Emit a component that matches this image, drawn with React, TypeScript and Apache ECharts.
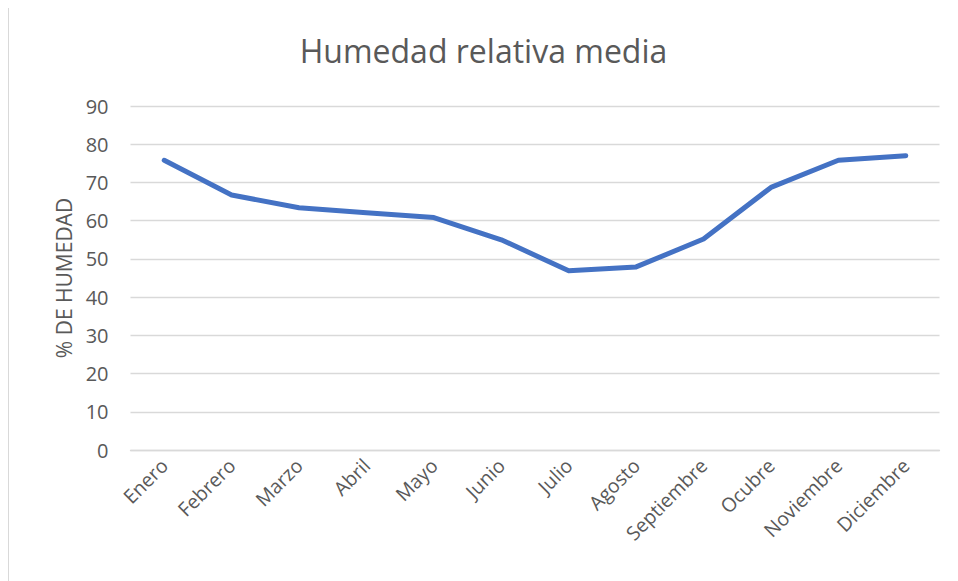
import React, { useEffect, useRef } from "react";
import * as echarts from "echarts";

const months = ["Enero", "Febrero", "Marzo", "Abril", "Mayo", "Junio", "Julio", "Agosto", "Septiembre", "Ocubre", "Noviembre", "Diciembre"];
const humidity = [75.8, 66.7, 63.4, 62.1, 60.8, 55.0, 46.9, 47.9, 55.2, 68.7, 75.8, 77.0];
const titleText = "Humedad relativa media";
const yAxisName = "% DE HUMEDAD";
const yMin = 0;
const yMax = 90;
const yStep = 10;

const FONT = "'Open Sans', sans-serif";
const GRAY = "#595959";

export default function App() {
  const ref = useRef<HTMLDivElement>(null);
  useEffect(() => {
    if (!ref.current) return;
    const chart = echarts.init(ref.current, null, { renderer: "svg" });
    chart.setOption({
      animation: false,
      backgroundColor: "#ffffff",
      title: {
        text: titleText,
        left: "center",
        top: 22,
        textStyle: { fontFamily: FONT, fontSize: 32, fontWeight: "normal", color: GRAY },
      },
      grid: { left: 121.5, right: 18.5, top: 99, bottom: 131, containLabel: false },
      xAxis: {
        type: "category",
        data: months,
        boundaryGap: true,
        axisLine: { show: true, lineStyle: { color: "#d9d9d9", width: 1.3 } },
        axisTick: { show: false },
        axisLabel: {
          rotate: 45,
          interval: 0,
          margin: 12,
          color: GRAY,
          fontFamily: FONT,
          fontSize: 19.5,
        },
        splitLine: { show: false },
      },
      yAxis: {
        type: "value",
        min: yMin,
        max: yMax,
        interval: yStep,
        name: yAxisName,
        nameLocation: "middle",
        nameGap: 55,
        nameTextStyle: { color: GRAY, fontFamily: FONT, fontSize: 21 },
        axisLine: { show: false },
        axisTick: { show: false },
        axisLabel: { color: GRAY, fontFamily: FONT, fontSize: 20, margin: 22 },
        splitLine: { show: true, lineStyle: { color: "#d9d9d9", width: 1.3 } },
      },
      series: [
        {
          type: "line",
          data: humidity,
          symbol: "none",
          lineStyle: { color: "#4472C4", width: 5, cap: "round", join: "round" },
          itemStyle: { color: "#4472C4" },
        },
      ],
    });
    return () => chart.dispose();
  }, []);
  return (
    <div
      ref={ref}
      style={{
        width: 950,
        height: 575,
        marginTop: -2,
        boxSizing: "border-box",
        borderLeft: "1px solid #d9d9d9",
        borderTop: "1px solid #d9d9d9",
      }}
    />
  );
}
